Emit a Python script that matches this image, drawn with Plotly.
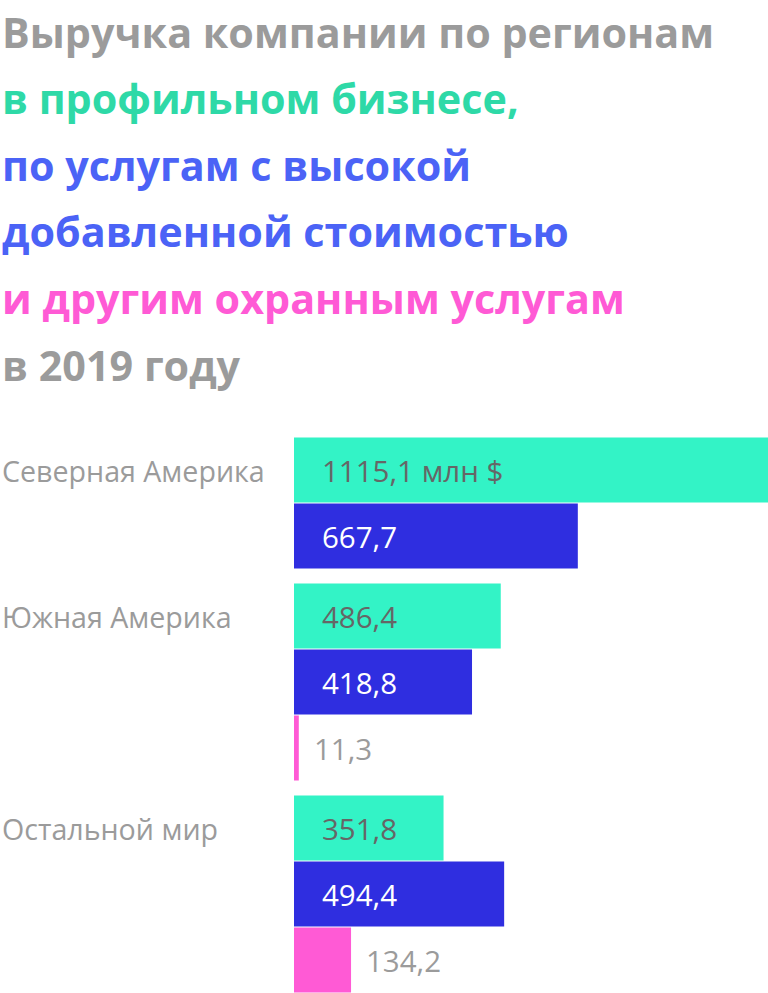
import plotly.graph_objects as go

# ---- data ----
regions = ["Северная Америка", "Южная Америка", "Остальной мир"]
core_business = [1115.1, 486.4, 351.8]          # профильный бизнес
value_added = [667.7, 418.8, 494.4]             # услуги с высокой добавленной стоимостью
other_security = [None, 11.3, 134.2]            # другие охранные услуги
value_labels_core = ["1115,1 млн $", "486,4", "351,8"]
value_labels_va = ["667,7", "418,8", "494,4"]
value_labels_other = [None, "11,3", "134,2"]

title_lines = [
    "Выручка компании по регионам",
    "в профильном бизнесе,",
    "по услугам с высокой",
    "добавленной стоимостью",
    "и другим охранным услугам",
    "в 2019 году",
]

# ---- styles ----
W, H = 768, 993
ML, MT = 294, 437
TEAL, BLUE, PINK = "#33F3C6", "#2F2EE0", "#FF5AD5"
GRAY = "#9B9B9B"
title_colors = [GRAY, "#2ED9A7", "#4B63F6", "#4B63F6", "#FF5AD5", GRAY]
FONT = "Open Sans"

series = [
    (core_business, value_labels_core, TEAL, "#666666", "inside"),
    (value_added, value_labels_va, BLUE, "#FFFFFF", "inside"),
    (other_security, value_labels_other, PINK, GRAY, "outside"),
]

# layout of rows: one slot per existing bar, a gap between regions
gap = 14 / 66
pos = {i: [] for i in range(len(series))}
region_y = []
cursor = 0.0
for r in range(len(regions)):
    first = None
    for s, (vals, _, _, _, _) in enumerate(series):
        if vals[r] is None:
            pos[s].append(None)
            continue
        y = cursor + 0.5
        pos[s].append(y)
        if first is None:
            first = y
        cursor += 1
    region_y.append(first)
    cursor += gap
total = cursor - gap

fig = go.Figure()
annotations = []
for s, (vals, labels, color, tcolor, where) in enumerate(series):
    xs = [v for v in vals if v is not None]
    ys = [p for p in pos[s] if p is not None]
    fig.add_trace(go.Bar(x=xs, y=ys, orientation="h", marker=dict(color=color, line=dict(width=0)),
                         width=0.985, hoverinfo="skip", showlegend=False))
    for v, p, lab in zip(vals, pos[s], labels):
        if v is None:
            continue
        if where == "inside":
            annotations.append(dict(x=0, y=p, xref="x", yref="y", text=lab, showarrow=False,
                                    xanchor="left", yanchor="middle", xshift=26,
                                    font=dict(family=FONT, size=29.5, color=tcolor)))
        else:
            annotations.append(dict(x=v, y=p, xref="x", yref="y", text=lab, showarrow=False,
                                    xanchor="left", yanchor="middle", xshift=13,
                                    font=dict(family=FONT, size=29.5, color=tcolor)))

plot_w = W - ML
for name, y in zip(regions, region_y):
    annotations.append(dict(x=(0 - ML) / plot_w, y=y, xref="paper", yref="y", text=name,
                            showarrow=False, xanchor="left", yanchor="middle",
                            font=dict(family=FONT, size=28.6, color=GRAY)))

plot_h = H - MT
for k, (line, col) in enumerate(zip(title_lines, title_colors)):
    ypx = 32 + 66.5 * k
    annotations.append(dict(x=(0 - ML) / plot_w, y=(H - ypx) / plot_h, xref="paper", yref="paper",
                            text="<b>" + line + "</b>", showarrow=False,
                            xanchor="left", yanchor="middle",
                            font=dict(family=FONT, size=41.3, color=col)))

fig.update_layout(
    width=W, height=H,
    margin=dict(l=ML, r=0, t=MT, b=0, pad=0),
    paper_bgcolor="white", plot_bgcolor="white",
    barmode="overlay",
    xaxis=dict(range=[0, max(core_business)], visible=False, fixedrange=True),
    yaxis=dict(range=[total, 0], visible=False, fixedrange=True),
    annotations=annotations,
)
fig.write_html("out.html", config={"displayModeBar": False},
               post_script="document.body.style.margin='0';document.body.style.overflow='hidden';")
